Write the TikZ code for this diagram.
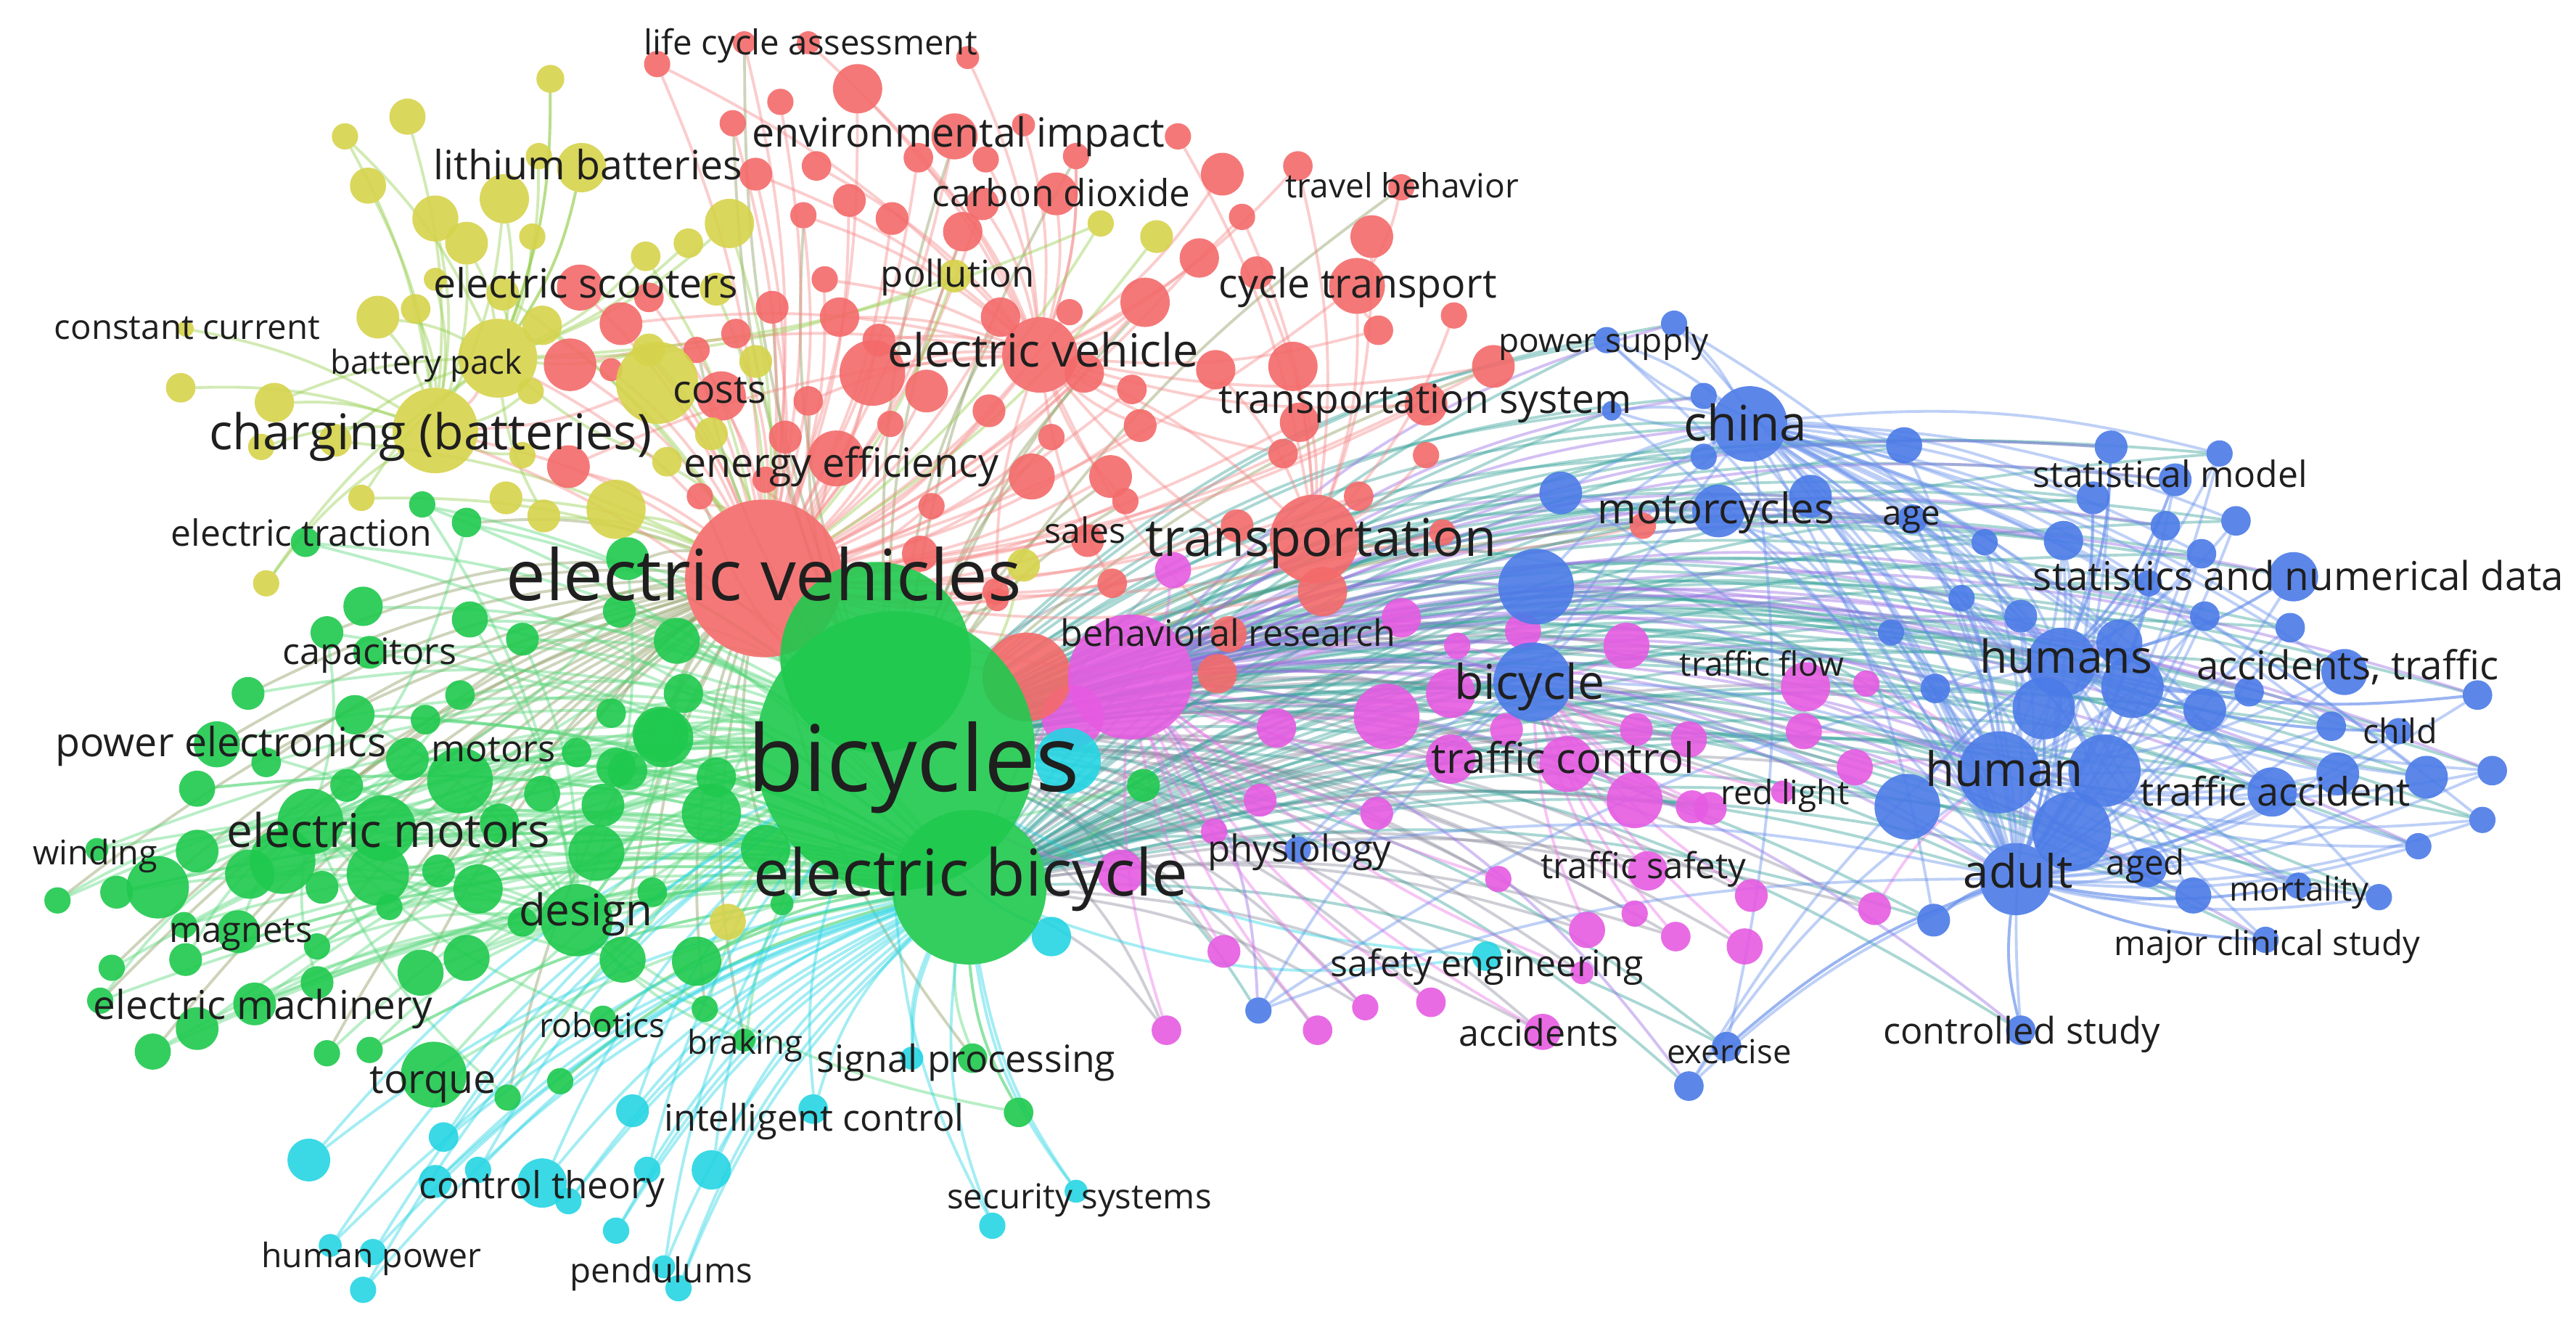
\documentclass[tikz,border=0pt]{standalone}
\usepackage{fontspec}
\setmainfont{Open Sans}
\definecolor{cR}{HTML}{F46A6A}
\definecolor{cY}{HTML}{D6D34C}
\definecolor{cG}{HTML}{1FC94E}
\definecolor{cC}{HTML}{25D5E3}
\definecolor{cM}{HTML}{E65BE2}
\definecolor{cB}{HTML}{4B7BE7}
\tikzset{
  nd/.style={circle,inner sep=0pt,outer sep=0pt,draw=none,fill opacity=0.9},
  sz/.style={minimum size={2*#1*0.02264cm}},
  lb/.style={inner sep=0pt,text=black!88,text height=2ex,text depth=0.2ex,font=\fontsize{#1}{#1}\selectfont},
  ed/.style={line width=1.1pt,draw opacity=0.42},
  eR/.style={ed,draw=cR!80!white},
  eY/.style={ed,draw=cY!65!cG},
  eG/.style={ed,draw=cG!75!white},
  eC/.style={ed,draw=cC},
  eM/.style={ed,draw=cM!85!white},
  eB/.style={ed,draw=cB!85!white},
  eT/.style={ed,draw=cG!50!cB},
  eP/.style={ed,draw=cM!50!cB},
  eGM/.style={ed,draw=cG!45!cM},
  eGR/.style={ed,draw=cG!50!cR},
}
\def\hublist{costsY/400/233/25/cY, batpack/303/218/24/cY, charging/265/262/26/cY, ev/633/216/23/cR, cyclet/826/174/17/cR, transp/800/328/27/cR, evs/465/352/48/cR, redc/625/412/27/cR, behav/688/412/38/cM, cyanbig/650/463/20/cC, emotors/189/500/20/cG, design/351/560/22/cG, torque/264/654/20/cG, gUp/533/400/58/cG, bicycles/545/457/85/cG, ebike/590/540/47/cG, china/1065/258/23/cB, motorc/1046/311/16/cB, bigblue/935/357/23/cB, bicy/933/415/24/cB, humans/1255/403/21/cB, human/1217/470/25/cB, adult/1227/535/22/cB}
\def\redlist{400/39/8/evs, 453/26/7/evs, 492/26/7/ev, 522/54/15/evs, 475/62/8/evs, 446/75/8/evs, 460/106/10/evs, 497/101/9/ev, 517/122/10/evs, 489/131/8/evs, 353/175/14/evs, 395/181/9/evs, 378/197/13/evs, 470/187/10/evs, 511/193/12/ev, 502/170/8/evs, 448/203/9/evs, 424/213/8/evs, 347/222/16/evs, 372/225/7/evs, 439/241/15/evs, 492/244/9/evs, 478/266/10/evs, 509/279/17/evs, 346/284/13/evs, 426/302/8/evs, 466/292/8/evs, 531/227/20/evs, 589/35/7/ev, 581/83/14/evs, 559/96/9/evs, 600/97/8/ev, 623/76/7/ev, 655/95/8/ev, 717/83/8/transp, 744/106/13/ev, 790/101/9/transp, 853/114/8/cyclet, 543/133/10/evs, 598/124/10/evs, 643/118/13/ev, 586/141/12/evs, 756/132/8/transp, 835/144/13/transp, 730/157/12/evs, 697/184/15/evs, 765/166/10/transp, 885/192/8/transp, 839/201/9/cyclet, 609/193/12/evs, 651/190/8/evs, 535/207/10/evs, 564/238/13/evs, 660/227/12/evs, 689/237/9/evs, 740/225/12/transp, 787/223/15/transp, 909/223/13/evs, 602/250/10/evs, 542/258/8/evs, 694/259/10/evs, 640/266/8/evs, 791/257/12/evs, 868/246/13/evs, 628/290/14/evs, 676/290/13/evs, 781/276/9/evs, 868/277/8/transp, 567/308/8/evs, 685/305/8/evs, 827/302/9/evs, 753/320/10/evs, 805/360/15/evs, 878/324/8/evs, 662/329/10/evs, 677/355/9/evs, 606/360/8/evs, 1000/320/8/transp, 748/386/11/evs, 741/410/12/evs, 560/337/11/evs, 607/365/7/evs}
\def\yellowlist{335/48/8.5/batpack, 248/71/11/charging, 210/83/8/charging, 224/113/11/charging, 354/102/15/batpack, 328/95/8/batpack, 307/121/15/charging, 265/133/14/charging, 284/148/13/charging, 324/144/8/batpack, 444/136/15/evs, 419/148/9/batpack, 393/156/9/evs, 265/170/7/charging, 306/179/10/evs, 436/176/10/evs, 230/193/13/charging, 253/188/9/charging, 330/198/12/evs, 113/200/5/charging, 395/213/10/evs, 460/220/10/evs, 167/245/12/charging, 110/236/9/charging, 204/268/10/evs, 159/272/8/charging, 323/238/8/charging, 433/264/10/evs, 406/281/9/evs, 318/277/8/charging, 220/303/8/evs, 308/303/10/evs, 331/314/10/evs, 375/310/18/evs, 162/355/8/charging, 623/344/10/bicycles, 670/136/8/evs, 704/144/10/evs, 581/168/10/evs, 443/561/11/bicycles}
\def\greenlist{257/307/8/bicycles, 284/318/9/bicycles, 186/330/9/bicycles, 382/340/13/bicycles, 377/372/10/bicycles, 221/369/12/bicycles, 286/377/11/bicycles, 199/385/10/ebike, 225/397/10/bicycles, 318/389/10/bicycles, 412/390/14/bicycles, 151/422/10/bicycles, 216/435/12/ebike, 280/423/9/bicycles, 259/438/9/bicycles, 132/453/14/bicycles, 248/462/13/ebike, 162/464/9/bicycles, 280/475/20/bicycles, 351/458/9/bicycles, 375/467/12/ebike, 404/449/18/bicycles, 436/473/12/bicycles, 433/495/18/ebike, 416/422/12/bicycles, 372/434/9/bicycles, 120/480/11/ebike, 211/478/10/bicycles, 233/504/20/bicycles, 304/501/12/ebike, 330/483/11/bicycles, 367/490/13/bicycles, 363/519/17/ebike, 466/517/15/bicycles, 120/518/13/bicycles, 96/540/19/bicycles, 71/543/10/ebike, 35/548/8/bicycles, 59/517/7/bicycles, 152/532/15/ebike, 172/524/20/bicycles, 196/540/10/bicycles, 230/532/19/ebike, 267/530/10/bicycles, 291/541/15/bicycles, 237/552/8/ebike, 318/561/9/bicycles, 397/543/9/bicycles, 476/550/7/bicycles, 145/567/13/ebike, 112/563/8/bicycles, 193/576/8/bicycles, 113/584/10/ebike, 68/589/8/bicycles, 155/611/13/bicycles, 61/609/8/ebike, 120/626/13/bicycles, 93/640/11/ebike, 193/598/10/bicycles, 256/592/14/ebike, 284/583/14/bicycles, 379/584/14/bicycles, 424/585/15/ebike, 429/614/8/bicycles, 367/620/8/ebike, 199/641/8/bicycles, 225/639/8/ebike, 309/668/8/bicycles, 341/658/8/ebike, 453/633/7/bicycles, 696/478/10/bicycles, 592/644/9/ebike, 620/677/9/ebike, 402/447/17/bicycles, 382/469/12/bicycles}
\def\cyanlist{640/570/12/bicycles, 385/676/10/bicycles, 270/692/9/bicycles, 188/706/13/bicycles, 265/719/10/ebike, 291/712/8/bicycles, 330/720/15/bicycles, 346/731/8/ebike, 394/712/8/bicycles, 433/712/12/bicycles, 375/749/8/ebike, 201/758/7/bicycles, 227/762/8/bicycles, 221/785/8/bicycles, 404/771/7/bicycles, 413/784/8/ebike, 495/675/9/bicycles, 555/644/7/ebike, 655/725/7/ebike, 604/746/8/bicycles, 905/582/9/bicycles}
\def\magentalist{653/436/19/bicycles, 777/443/12/behav, 844/436/20/behav, 767/487/10/behav, 838/495/10/behav, 739/506/8/behav, 883/422/15/behav, 917/444/10/bicy, 883/462/15/behav, 954/465/17/bicy, 996/444/10/bicy, 1028/450/11/bicy, 995/487/17/bicy, 1030/491/10/bicy, 912/535/8/behav, 1003/530/12/bicy, 745/579/10/behav, 966/566/11/bicy, 995/556/8/bicy, 1020/570/9/bicy, 963/592/7/behav, 710/627/9/behav, 802/627/9/behav, 831/613/8/behav, 871/610/9/behav, 939/628/11/behav, 682/531/14/bicycles, 714/347/11/behav, 853/376/12/behav, 887/393/8/bicy, 927/384/11/bicy, 990/393/14/bicy, 1099/418/15/human, 1136/416/8/human, 1098/445/11/human, 1129/467/11/human, 1085/482/7/bicy, 1041/492/10/bicy, 1066/545/10/bicy, 1141/553/10/human, 1062/576/11/bicy}
\def\bluelist{950/300/13/china, 978/207/8/china, 1019/197/8/china, 981/250/6/china, 1037/241/8/china, 1037/278/8/china, 1102/302/13/human, 1159/271/11/china, 1164/316/9/human, 1208/330/8/humans, 1285/272/10/humans, 1351/276/8/humans, 1324/292/10/humans, 1274/303/10/humans, 1318/320/9/human, 1361/317/9/humans, 1256/329/12/human, 1340/337/9/humans, 1396/351/15/humans, 1308/355/8/human, 1194/364/8/human, 1230/375/10/human, 1342/375/9/human, 1394/382/9/human, 1151/385/8/human, 1290/391/14/human, 1298/418/19/human, 1244/431/19/adult, 1178/419/9/human, 1342/432/13/human, 1369/421/9/humans, 1427/409/14/human, 1508/423/9/humans, 1419/442/9/human, 1460/445/8/humans, 1281/469/22/humans, 1161/491/20/humans, 1261/506/24/humans, 1307/528/12/human, 1383/482/15/human, 1423/471/13/human, 1477/473/13/humans, 1517/469/9/human, 1511/499/8/human, 1472/515/8/human, 1335/545/11/human, 1399/539/8/adult, 1448/546/8/human, 1379/572/8/adult, 1177/560/10/adult, 1230/627/9/adult, 1051/637/9/adult, 1028/661/9/human, 790/517/8/bicy, 766/615/8/bicy}
\begin{document}
\begin{tikzpicture}[x=0.02264cm,y=-0.02264cm]
\useasboundingbox (0,0) rectangle (1568,810);
\fill[white] (0,0) rectangle (1568,810);
% ===== pass 1: invisible named nodes =====
\foreach \n/\x/\y/\r/\c in \hublist {\node[nd,sz=\r] (\n) at (\x,\y) {};}
\foreach \x/\y/\r/\t [count=\i] in \redlist {\node[nd,sz=\r] (R\i) at (\x,\y) {}; \xdef\nR{\i}}
\foreach \x/\y/\r/\t [count=\i] in \yellowlist {\node[nd,sz=\r] (Y\i) at (\x,\y) {}; \xdef\nY{\i}}
\foreach \x/\y/\r/\t [count=\i] in \greenlist {\node[nd,sz=\r] (G\i) at (\x,\y) {}; \xdef\nG{\i}}
\foreach \x/\y/\r/\t [count=\i] in \cyanlist {\node[nd,sz=\r] (C\i) at (\x,\y) {}; \xdef\nC{\i}}
\foreach \x/\y/\r/\t [count=\i] in \magentalist {\node[nd,sz=\r] (M\i) at (\x,\y) {}; \xdef\nM{\i}}
\foreach \x/\y/\r/\t [count=\i] in \bluelist {\node[nd,sz=\r] (B\i) at (\x,\y) {}; \xdef\nB{\i}}
% ===== pass 2: connectors =====
\foreach \i in {1,2,...,\nM} \draw[eGM] (bicycles) to[bend left=14] (M\i);
\foreach \i in {2,4,...,\nM} \draw[eGM] (ebike) to[bend left=12] (M\i);
\foreach \i in {1,2,...,\nB} \draw[eT] (bicycles) to[bend left=16] (B\i);
\foreach \i in {2,4,...,\nB} \draw[eT] (ebike) to[bend left=14] (B\i);
\foreach \i in {1,3,...,\nB} \draw[eP] (behav) to[bend left=16] (B\i);
\foreach \i in {2,6,...,\nR} \draw[eGR] (bicycles) to[bend left=10] (R\i);
\foreach \i in {2,4,...,\nG} \draw[eGR] (G\i) to[bend left=12] (evs);
\foreach \x/\y/\r/\t [count=\i] in \redlist {\draw[eR] (R\i) to[bend left=10] (\t);}
\foreach \i in {1,4,...,\nR} \draw[eR] (R\i) to[bend left=10] (ev);
\foreach \x/\y/\r/\t [count=\i] in \yellowlist {\draw[eY] (Y\i) to[bend left=10] (\t);}
\foreach \i in {1,3,...,\nY} \draw[eY] (Y\i) to[bend left=10] (batpack);
\foreach \x/\y/\r/\t [count=\i] in \greenlist {\draw[eG] (G\i) to[bend left=12] (\t);}
\foreach \i in {1,3,...,\nG} \draw[eG] (G\i) to[bend left=12] (ebike);
\foreach \i in {2,5,...,\nG} \draw[eG] (G\i) to[bend left=12] (emotors);
\foreach \i in {1,4,...,\nG} \draw[eG] (G\i) to[bend left=12] (design);
\foreach \x/\y/\r/\t [count=\i] in \cyanlist {\draw[eC] (C\i) to[bend left=12] (\t);}
\foreach \i in {1,2,...,\nC} \draw[eC] (C\i) to[bend left=14] (ebike);
\foreach \x/\y/\r/\t [count=\i] in \magentalist {\draw[eM] (M\i) to[bend left=10] (\t);}
\foreach \x/\y/\r/\t [count=\i] in \bluelist {\draw[eB] (B\i) to[bend left=10] (\t);}
\foreach \i in {1,2,...,\nB} \draw[eB] (B\i) to[bend left=10] (adult);
\foreach \i in {2,4,...,\nB} \draw[eB] (china) to[bend left=10] (B\i);
\foreach \i in {1,3,...,\nB} \draw[eB] (B\i) to[bend left=10] (humans);
\foreach \a/\b in {evs/bicycles, ev/evs, transp/evs, cyclet/evs, redc/evs, charging/evs, batpack/evs, costsY/evs, charging/bicycles, batpack/charging, costsY/charging, ev/transp, cyclet/transp, evs/gUp}
  \draw[eR] (\a) to[bend left=10] (\b);
\foreach \a/\b in {emotors/bicycles, design/bicycles, torque/bicycles, emotors/ebike, design/ebike, torque/ebike, gUp/bicycles}
  \draw[eG] (\a) to[bend left=10] (\b);
\foreach \a/\b in {bicycles/china, bicycles/bicy, bicycles/bigblue, bicycles/human, bicycles/humans, bicycles/adult, bicycles/motorc, ebike/china, ebike/bicy, ebike/human, ebike/humans, ebike/adult, ebike/motorc, ebike/bigblue, transp/china, transp/human}
  \draw[eT] (\a) to[bend left=16] (\b);
\foreach \a/\b in {behav/china, behav/bicy, behav/human, behav/adult, behav/humans, behav/bigblue}
  \draw[eP] (\a) to[bend left=16] (\b);
\foreach \a/\b in {china/human, china/humans, china/adult, motorc/human, motorc/adult, bicy/human, bicy/china, bicy/adult, bigblue/human, bigblue/china, humans/adult, human/adult, humans/human}
  \draw[eB] (\a) to[bend left=10] (\b);
% ===== pass 3: visible circles =====
\foreach \x/\y/\r/\t [count=\i] in \redlist {\node[nd,fill=cR,sz=\r] (R\i) at (\x,\y) {};}
\foreach \x/\y/\r/\t [count=\i] in \yellowlist {\node[nd,fill=cY,sz=\r] (Y\i) at (\x,\y) {};}
\foreach \x/\y/\r/\t [count=\i] in \greenlist {\node[nd,fill=cG,sz=\r] (G\i) at (\x,\y) {};}
\foreach \x/\y/\r/\t [count=\i] in \cyanlist {\node[nd,fill=cC,sz=\r] (C\i) at (\x,\y) {};}
\foreach \x/\y/\r/\t [count=\i] in \magentalist {\node[nd,fill=cM,sz=\r] (M\i) at (\x,\y) {};}
\foreach \x/\y/\r/\t [count=\i] in \bluelist {\node[nd,fill=cB,sz=\r] (B\i) at (\x,\y) {};}
\foreach \n/\x/\y/\r/\c in \hublist {\node[nd,fill=\c,sz=\r] (\n) at (\x,\y) {};}
% ===== labels =====
\node[lb=13.5] (l1) at (493.5,26) {life cycle assessment};
\node[lb=15.8] (l2) at (583.5,82) {environmental impact};
\node[lb=14.6] (l3) at (646,118) {carbon dioxide};
\node[lb=13.1] (l4) at (853.5,113) {travel behavior};
\node[lb=14.5] (l5) at (583,167) {pollution};
\node[lb=15.8] (l6) at (826.5,174) {cycle transport};
\node[lb=17.9] (l7) at (635,216) {electric vehicle};
\node[lb=15.7] (l8) at (867.5,244) {transportation system};
\node[lb=15.8] (l9) at (512,283) {energy efficiency};
\node[lb=13.7] (l10) at (660.5,323) {sales};
\node[lb=20.4] (l11) at (804,331) {transportation};
\node[lb=27.7] (l12) at (465,358) {electric vehicles};
\node[lb=15.3] (l13) at (438,238) {costs};
\node[lb=15.8] (l14) at (358,102) {lithium batteries};
\node[lb=15.8] (l15) at (356.5,174) {electric scooters};
\node[lb=13.5] (l16) at (114,199) {constant current};
\node[lb=13.0] (l17) at (259.5,220) {battery pack};
\node[lb=19.3] (l18) at (262,266) {charging (batteries)};
\node[lb=14.2] (l19) at (183.5,325) {electric traction};
\node[lb=14.3] (l20) at (225,397) {capacitors};
\node[lb=15.8] (l21) at (134.5,453) {power electronics};
\node[lb=14.4] (l22) at (300.5,456) {motors};
\node[lb=36] (l23) at (556,474) {bicycles};
\node[lb=18.2] (l24) at (236.5,508) {electric motors};
\node[lb=13.3] (l25) at (58,519) {winding};
\node[lb=25.3] (l26) at (591,538) {electric bicycle};
\node[lb=17.1] (l27) at (356.5,556) {design};
\node[lb=13.9] (l28) at (146.5,566) {magnets};
\node[lb=15.6] (l29) at (160,613) {electric machinery};
\node[lb=13.1] (l30) at (366.5,624) {robotics};
\node[lb=12.9] (l31) at (453.5,634) {braking};
\node[lb=15.8] (l32) at (263.5,658) {torque};
\node[lb=14.7] (l33) at (588,645) {signal processing};
\node[lb=14.4] (l34) at (495.5,681) {intelligent control};
\node[lb=14.6] (l35) at (330,722) {control theory};
\node[lb=13.5] (l36) at (657,728) {security systems};
\node[lb=13.2] (l37) at (226,764) {human power};
\node[lb=13.5] (l38) at (402.5,773) {pendulums};
\node[lb=14.3] (l39) at (747.5,386) {behavioral research};
\node[lb=13.1] (l40) at (1072.5,404) {traffic flow};
\node[lb=16.5] (l41) at (951.5,463) {traffic control};
\node[lb=13.1] (l42) at (1086.5,482) {red light};
\node[lb=14.5] (l43) at (791,517) {physiology};
\node[lb=14.0] (l44) at (1000.5,527) {traffic safety};
\node[lb=14.3] (l45) at (905,587) {safety engineering};
\node[lb=14.3] (l46) at (936.5,629) {accidents};
\node[lb=13.1] (l47) at (976,207) {power supply};
\node[lb=19.2] (l48) at (1062.5,261) {china};
\node[lb=16.5] (l49) at (1044.5,311) {motorcycles};
\node[lb=13.5] (l50) at (1163.5,312) {age};
\node[lb=14.2] (l51) at (1321,289) {statistical model};
\node[lb=15.6] (l52) at (1399,352) {statistics and numerical data};
\node[lb=18.8] (l53) at (931,418) {bicycle};
\node[lb=17.8] (l54) at (1257.5,402) {humans};
\node[lb=15.6] (l55) at (1429,406) {accidents, traffic};
\node[lb=13.3] (l56) at (1461,445) {child};
\node[lb=18.6] (l57) at (1220,471) {human};
\node[lb=15.4] (l58) at (1385,483) {traffic accident};
\node[lb=18.0] (l59) at (1228.5,533) {adult};
\node[lb=13.5] (l60) at (1306,525) {aged};
\node[lb=13.0] (l61) at (1399.5,541) {mortality};
\node[lb=13.4] (l62) at (1380,574) {major clinical study};
\node[lb=14.4] (l63) at (1230.5,628) {controlled study};
\node[lb=13.0] (l64) at (1052.5,640) {exercise};
\end{tikzpicture}
\end{document}
